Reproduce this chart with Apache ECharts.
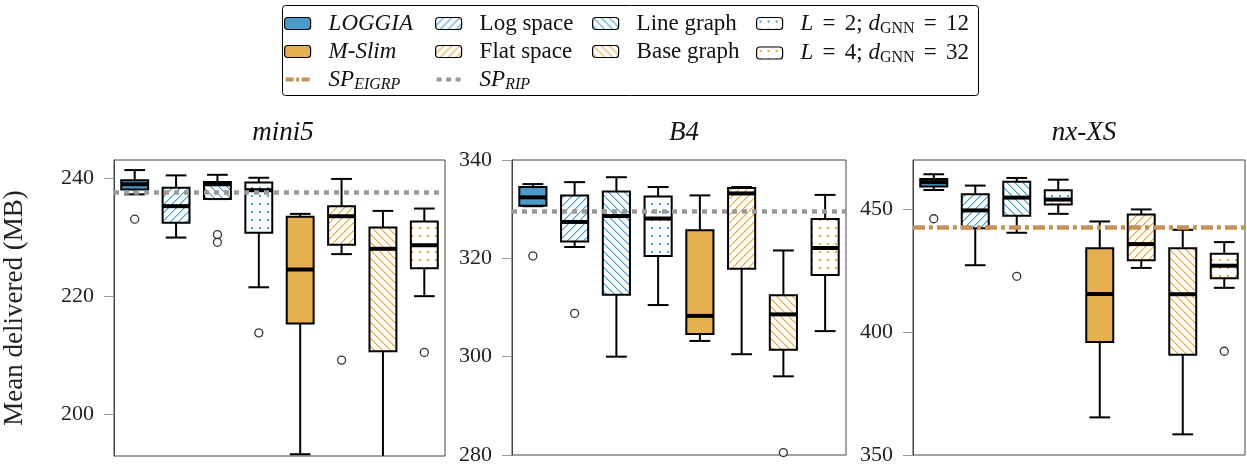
<!DOCTYPE html>
<html>
<head>
<meta charset="utf-8">
<script src="https://cdn.jsdelivr.net/npm/echarts@6/dist/echarts.min.js"></script>
<style>
html,body{margin:0;padding:0;background:#fff;}
#chart{width:1247px;height:466px;}
</style>
</head>
<body>
<div id="chart"></div>
<script>
// ---------- DATA ----------
const variants = ['LOGGIA', 'Log space', 'Line graph', 'L2', 'M-Slim', 'Flat space', 'Base graph', 'L4'];
const panels = ['mini5', 'B4', 'nx-XS'];
// [lowWhisker, q1, median, q3, highWhisker] per variant (order as in `variants`)
const mini5Stats = [
  [237.2, 238.0, 238.9, 239.6, 241.3],
  [229.9, 232.4, 235.2, 238.3, 240.4],
  [236.4, 236.4, 238.9, 239.3, 240.5],
  [221.5, 230.7, 237.9, 239.2, 240.0],
  [193.3, 215.4, 224.5, 233.4, 233.9],
  [227.1, 228.7, 233.5, 235.2, 239.8],
  [190.0, 210.7, 228.0, 231.6, 234.4],
  [220.0, 224.7, 228.6, 232.6, 234.8]
];
const b4Stats = [
  [330.6, 330.7, 332.4, 334.5, 335.1],
  [322.3, 323.4, 327.4, 332.8, 335.5],
  [300.0, 312.6, 328.6, 333.6, 336.5],
  [310.5, 320.5, 328.1, 332.6, 334.5],
  [303.2, 304.6, 308.3, 325.7, 332.8],
  [300.5, 317.9, 333.2, 334.3, 334.5],
  [296.0, 301.4, 308.6, 312.5, 321.6],
  [305.2, 316.6, 322.1, 328.0, 332.9]
];
const nxxsStats = [
  [457.8, 459.2, 461.0, 462.3, 464.2],
  [427.2, 442.2, 449.5, 456.1, 459.6],
  [440.4, 447.3, 454.7, 461.2, 462.7],
  [448.1, 451.9, 453.9, 457.7, 462.0],
  [365.3, 396.0, 415.5, 434.1, 445.0],
  [426.1, 429.2, 435.8, 447.8, 449.9],
  [358.4, 390.8, 415.4, 434.1, 441.6],
  [418.0, 421.9, 427.0, 431.9, 436.6]
];
// outliers: [variantIndex, value]
const mini5Outliers = [[0, 233.0], [2, 230.4], [2, 229.1], [3, 213.8], [5, 209.2], [7, 210.5]];
const b4Outliers = [[0, 320.5], [1, 308.8], [6, 280.5]];
const nxxsOutliers = [[0, 446.1], [2, 422.7], [7, 392.2]];
// reference lines
const spRip = [237.6, 329.5, null];
const spEigrp = [null, null, 442.7];
// axis ranges and ticks
const yMins = [193, 280, 350];
const yMaxs = [243, 340, 470];
const yTicks = [[200, 220, 240], [280, 300, 320, 340], [350, 400, 450]];

// ---------- STYLE ----------
const FONT = 'Liberation Serif';
const BLUE = '#4a9bc9', ORANGE = '#e6b050';
const HBLUE = '#3f9fdc', HORANGE = '#f2a530';
const RIP_COLOR = '#999999', EIGRP_COLOR = '#c8915a';

function makePattern(kind, color) {
  const s = 8;
  const c = document.createElement('canvas');
  c.width = s; c.height = s;
  const g = c.getContext('2d');
  g.fillStyle = '#fff'; g.fillRect(0, 0, s, s);
  g.fillStyle = color;
  if (kind === 'fwd' || kind === 'back') {
    for (let i = 0; i < s; i++) {
      const y = kind === 'fwd' ? s - 1 - i : i;
      g.globalAlpha = 1;
      g.fillRect(i, y, 1, 1);
      g.globalAlpha = 0.5;
      g.fillRect((i + 1) % s, y, 1, 1);
    }
    g.globalAlpha = 1;
  } else {
    g.fillRect(3, 3, 2, 2);
  }
  return { image: c, repeat: 'repeat' };
}
const fills = {
  'LOGGIA': BLUE,
  'Log space': makePattern('fwd', HBLUE),
  'Line graph': makePattern('back', HBLUE),
  'L2': makePattern('dot', HBLUE),
  'M-Slim': ORANGE,
  'Flat space': makePattern('fwd', HORANGE),
  'Base graph': makePattern('back', HORANGE),
  'L4': makePattern('dot', HORANGE)
};

const allStats = [mini5Stats, b4Stats, nxxsStats];
const allOutliers = [mini5Outliers, b4Outliers, nxxsOutliers];
const gridLefts = [111, 512, 913];
const gridWidths = [334, 334, 332];

function makeRender(fill) {
  return function (params, api) {
    const xi = api.value(0);
    const lo = api.coord([xi, api.value(1)]);
    const q1 = api.coord([xi, api.value(2)]);
    const md = api.coord([xi, api.value(3)]);
    const q3 = api.coord([xi, api.value(4)]);
    const hi = api.coord([xi, api.value(5)]);
    const band = api.size([1, 0])[0];
    const bw = band * 0.65, cw = band * 0.5;
    const cx = lo[0];
    const ls = { stroke: '#000', lineWidth: 2 };
    return {
      type: 'group',
      children: [
        { type: 'line', shape: { x1: cx, y1: hi[1], x2: cx, y2: q3[1] }, style: ls },
        { type: 'line', shape: { x1: cx, y1: q1[1], x2: cx, y2: lo[1] }, style: ls },
        { type: 'line', shape: { x1: cx - cw / 2, y1: hi[1], x2: cx + cw / 2, y2: hi[1] }, style: ls },
        { type: 'line', shape: { x1: cx - cw / 2, y1: lo[1], x2: cx + cw / 2, y2: lo[1] }, style: ls },
        { type: 'rect', shape: { x: cx - bw / 2, y: q3[1], width: bw, height: q1[1] - q3[1] },
          style: { fill: fill, stroke: '#000', lineWidth: 2 } },
        { type: 'line', shape: { x1: cx - bw / 2, y1: md[1], x2: cx + bw / 2, y2: md[1] },
          style: { stroke: '#000', lineWidth: 4 } }
      ]
    };
  };
}

const grids = [], xAxes = [], yAxes = [], titles = [], series = [];
panels.forEach((p, k) => {
  grids.push({ left: gridLefts[k], top: 160, width: gridWidths[k], height: 296,
    show: true, borderColor: '#444', borderWidth: 1, backgroundColor: 'transparent' });
  xAxes.push({ type: 'category', gridIndex: k, data: variants, boundaryGap: true,
    axisLine: { show: false }, axisTick: { show: false }, axisLabel: { show: false }, splitLine: { show: false } });
  yAxes.push({ type: 'value', gridIndex: k, min: yMins[k], max: yMaxs[k],
    name: k === 0 ? 'Mean delivered (MB)' : '', nameLocation: 'middle', nameGap: 86,
    nameTextStyle: { fontFamily: FONT, fontSize: 27, color: '#222' },
    axisLine: { show: true, lineStyle: { color: '#444' } },
    axisTick: { show: true, length: 10, lineStyle: { color: '#999' }, customValues: yTicks[k] },
    axisLabel: { fontFamily: FONT, fontSize: 22, color: '#222', margin: 20, customValues: yTicks[k] },
    splitLine: { show: false } });
  titles.push({ text: p, left: gridLefts[k] + gridWidths[k] / 2, textAlign: 'center', top: 114,
    textStyle: { fontFamily: FONT, fontSize: 27, fontStyle: 'italic', fontWeight: 'normal', color: '#111' } });
  variants.forEach((v, i) => {
    series.push({
      type: 'custom', name: v, xAxisIndex: k, yAxisIndex: k, clip: true,
      itemStyle: { color: fills[v], borderColor: '#000', borderWidth: 1.5 },
      renderItem: makeRender(fills[v]),
      encode: { x: 0, y: [1, 2, 3, 4, 5] },
      data: [[i].concat(allStats[k][i])],
      z: 3
    });
  });
  series.push({
    type: 'scatter', name: 'outliers', xAxisIndex: k, yAxisIndex: k,
    symbol: 'circle', symbolSize: 8,
    itemStyle: { color: '#fff', borderColor: '#000', borderWidth: 1.3 },
    data: allOutliers[k], z: 4, silent: true
  });
  if (spRip[k] !== null) {
    series.push({
      type: 'line', name: 'SP_RIP', xAxisIndex: k, yAxisIndex: k, data: [], symbol: 'none',
      itemStyle: { color: RIP_COLOR },
      lineStyle: { color: RIP_COLOR, width: 4, type: [5, 5] },
      markLine: { silent: true, symbol: 'none', label: { show: false },
        lineStyle: { color: RIP_COLOR, width: 4.5, type: [5, 5] }, data: [{ yAxis: spRip[k] }] },
      z: 5
    });
  }
  if (spEigrp[k] !== null) {
    series.push({
      type: 'line', name: 'SP_EIGRP', xAxisIndex: k, yAxisIndex: k, data: [], symbol: 'none',
      itemStyle: { color: EIGRP_COLOR },
      lineStyle: { color: EIGRP_COLOR, width: 4, type: [12, 4, 4, 4] },
      markLine: { silent: true, symbol: 'none', label: { show: false },
        lineStyle: { color: EIGRP_COLOR, width: 4.5, type: [12, 4, 4, 4] }, data: [{ yAxis: spEigrp[k] }] },
      z: 5
    });
  }
});

const EQ = '\u2009\u2009=\u2009\u2009';
const legendText = {
  'LOGGIA': '{it|LOGGIA}',
  'M-Slim': '{it|M-Slim}',
  'Log space': 'Log space',
  'Flat space': 'Flat space',
  'Line graph': 'Line graph',
  'Base graph': 'Base graph',
  'L2': '{it|L}' + EQ + '2; {it|d}{sub|GNN}' + EQ + '12',
  'L4': '{it|L}' + EQ + '4; {it|d}{sub|GNN}' + EQ + '32',
  'SP_EIGRP': '{it|SP}{subit|EIGRP}',
  'SP_RIP': '{it|SP}{subit|RIP}'
};
const lineIcons = {
  'SP_EIGRP': 'path://M0,0M26,12M1,4h8v4h-8zM11.5,4h3v4h-3zM17,4h8v4h-8z',
  'SP_RIP': 'path://M0,0M26,12M1,4h5v4h-5zM10.5,4h5v4h-5zM20,4h5v4h-5z'
};
const legendCols = [
  { left: 284, data: ['LOGGIA', 'M-Slim', 'SP_EIGRP'] },
  { left: 435, data: ['Log space', 'Flat space', 'SP_RIP'] },
  { left: 592, data: ['Line graph', 'Base graph'] },
  { left: 756, data: ['L2', 'L4'] }
];
const rich = {
  it: { fontFamily: FONT, fontSize: 23, fontStyle: 'italic', color: '#111' },
  sub: { fontFamily: FONT, fontSize: 16, color: '#111', padding: [10, 0, 0, 0] },
  subit: { fontFamily: FONT, fontSize: 16, fontStyle: 'italic', color: '#111', padding: [10, 0, 0, 0] }
};
const legends = legendCols.map(c => ({
  orient: 'vertical', left: c.left, top: 12, itemGap: 5, itemWidth: 26, itemHeight: 12,
  selectedMode: false, padding: 0,
  data: c.data.map(n => (lineIcons[n] ? { name: n, icon: lineIcons[n], itemStyle: { borderWidth: 0 } } :
    { name: n, icon: 'roundRect', itemStyle: { borderColor: '#000', borderWidth: 1.2 } })),
  formatter: n => legendText[n],
  textStyle: { fontFamily: FONT, fontSize: 23, color: '#111', padding: [0, 0, 0, 13], rich: rich }
}));

const chart = echarts.init(document.getElementById('chart'), null, { renderer: 'canvas' });
chart.setOption({
  animation: false,
  backgroundColor: '#fff',
  title: titles,
  grid: grids,
  xAxis: xAxes,
  yAxis: yAxes,
  legend: legends,
  graphic: [{ type: 'rect', left: 280, top: 3, shape: { width: 696, height: 90, r: 3 },
    style: { fill: 'none', stroke: '#000', lineWidth: 1 }, z: -1 }],
  series: series
});
</script>
</body>
</html>
